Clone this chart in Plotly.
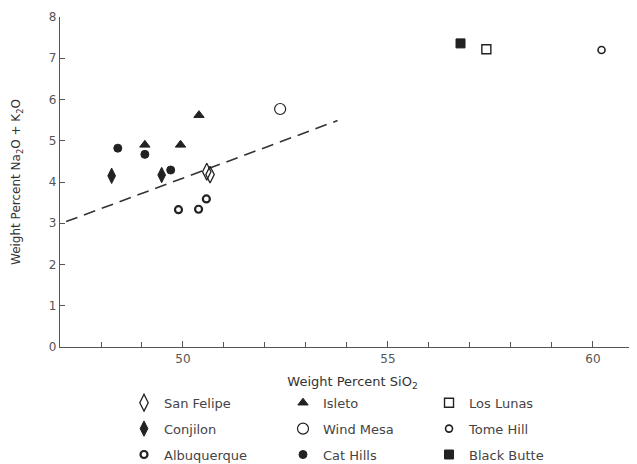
import plotly.graph_objects as go

# ---- data ----
san_felipe_x = [50.58, 50.66]
san_felipe_y = [4.25, 4.18]
conjilon_x = [48.26, 49.48]
conjilon_y = [4.15, 4.17]
albuquerque_x = [49.89, 50.38, 50.57]
albuquerque_y = [3.33, 3.34, 3.59]
isleto_x = [49.07, 49.94, 50.39]
isleto_y = [4.90, 4.90, 5.62]
wind_mesa_x = [52.37]
wind_mesa_y = [5.77]
cat_hills_x = [48.41, 49.07, 49.70]
cat_hills_y = [4.82, 4.67, 4.29]
los_lunas_x = [57.40]
los_lunas_y = [7.22]
tome_hill_x = [60.21]
tome_hill_y = [7.20]
black_butte_x = [56.77]
black_butte_y = [7.36]
line_x = [47.15, 53.77]
line_y = [3.04, 5.49]

x_tickvals = [50, 55, 60]
x_ticklabels = ["50", "55", "60"]
y_tickvals = list(range(0, 9))

INK = "#222222"
FONT = "DejaVu Sans"

fig = go.Figure()

fig.add_trace(go.Scatter(x=line_x, y=line_y, mode="lines",
                         line=dict(color="#333333", width=1.6, dash="12px,7px"),
                         showlegend=False, hoverinfo="skip"))

series = [
    # name, x, y, symbol, size, linewidth, legend
    ("San Felipe", san_felipe_x, san_felipe_y, "diamond-tall-open", 12, 1.3, "legend"),
    ("Conjilon", conjilon_x, conjilon_y, "diamond-tall", 11, 1, "legend"),
    ("Albuquerque", albuquerque_x, albuquerque_y, "circle-open", 7, 2.2, "legend"),
    ("Isleto", isleto_x, isleto_y, "triangle-up", 9, 1, "legend2"),
    ("Wind Mesa", wind_mesa_x, wind_mesa_y, "circle-open", 11, 1.2, "legend2"),
    ("Cat Hills", cat_hills_x, cat_hills_y, "circle", 8, 1, "legend2"),
    ("Los Lunas", los_lunas_x, los_lunas_y, "square-open", 9, 1.4, "legend3"),
    ("Tome Hill", tome_hill_x, tome_hill_y, "circle-open", 7, 1.6, "legend3"),
    ("Black Butte", black_butte_x, black_butte_y, "square", 9, 1, "legend3"),
]

for name, xs, ys, sym, size, lw, lg in series:
    fig.add_trace(go.Scatter(
        x=xs, y=ys, mode="markers", name=name, legend=lg,
        legendgroup=name,
        marker=dict(symbol=sym, size=size, color=INK,
                    line=dict(color=INK, width=lw)),
    ))

legend_common = dict(
    xref="paper", yref="paper", xanchor="left", yanchor="bottom",
    y=-0.372,
    font=dict(family=FONT, size=13, color="#444444"),
    bgcolor="rgba(0,0,0,0)", tracegroupgap=6, itemsizing="trace",
)

# the page places the figure 8px from the top-left corner; margins compensate
fig.update_layout(
    width=637, height=464,
    paper_bgcolor="white", plot_bgcolor="white",
    margin=dict(l=52, r=0, t=9, b=125),
    font=dict(family=FONT, size=12, color="#444444"),
    legend=dict(x=0.1094, **legend_common),
    legend2=dict(x=0.3812, **legend_common),
    legend3=dict(x=0.6308, **legend_common),
    xaxis=dict(
        range=[47, 61.27], tickmode="array", tickvals=x_tickvals, ticktext=x_ticklabels,
        ticks="inside", ticklen=6, tickwidth=1, tickcolor="#555555",
        minor=dict(tick0=47, dtick=1, ticks="inside", ticklen=5, tickwidth=1,
                   tickcolor="#555555", showgrid=False),
        showline=True, linecolor="#555555", linewidth=1.2,
        showgrid=False, zeroline=False, automargin=False,
        tickfont=dict(family=FONT, size=12, color="#555555"),
        title=dict(text="Weight Percent SiO<sub>2</sub>", standoff=12,
                   font=dict(family=FONT, size=13, color="#333333")),
    ),
    yaxis=dict(
        range=[0, 8], tickmode="array", tickvals=y_tickvals,
        ticks="inside", ticklen=5, tickwidth=1, tickcolor="#555555",
        showline=True, linecolor="#555555", linewidth=1.2,
        showgrid=False, zeroline=False, automargin=False,
        tickfont=dict(family=FONT, size=12, color="#555555"),
        title=dict(text="Weight Percent Na<sub>2</sub>O + K<sub>2</sub>O", standoff=25,
                   font=dict(family=FONT, size=12, color="#333333")),
    ),
)

fig.write_html("out.html")
